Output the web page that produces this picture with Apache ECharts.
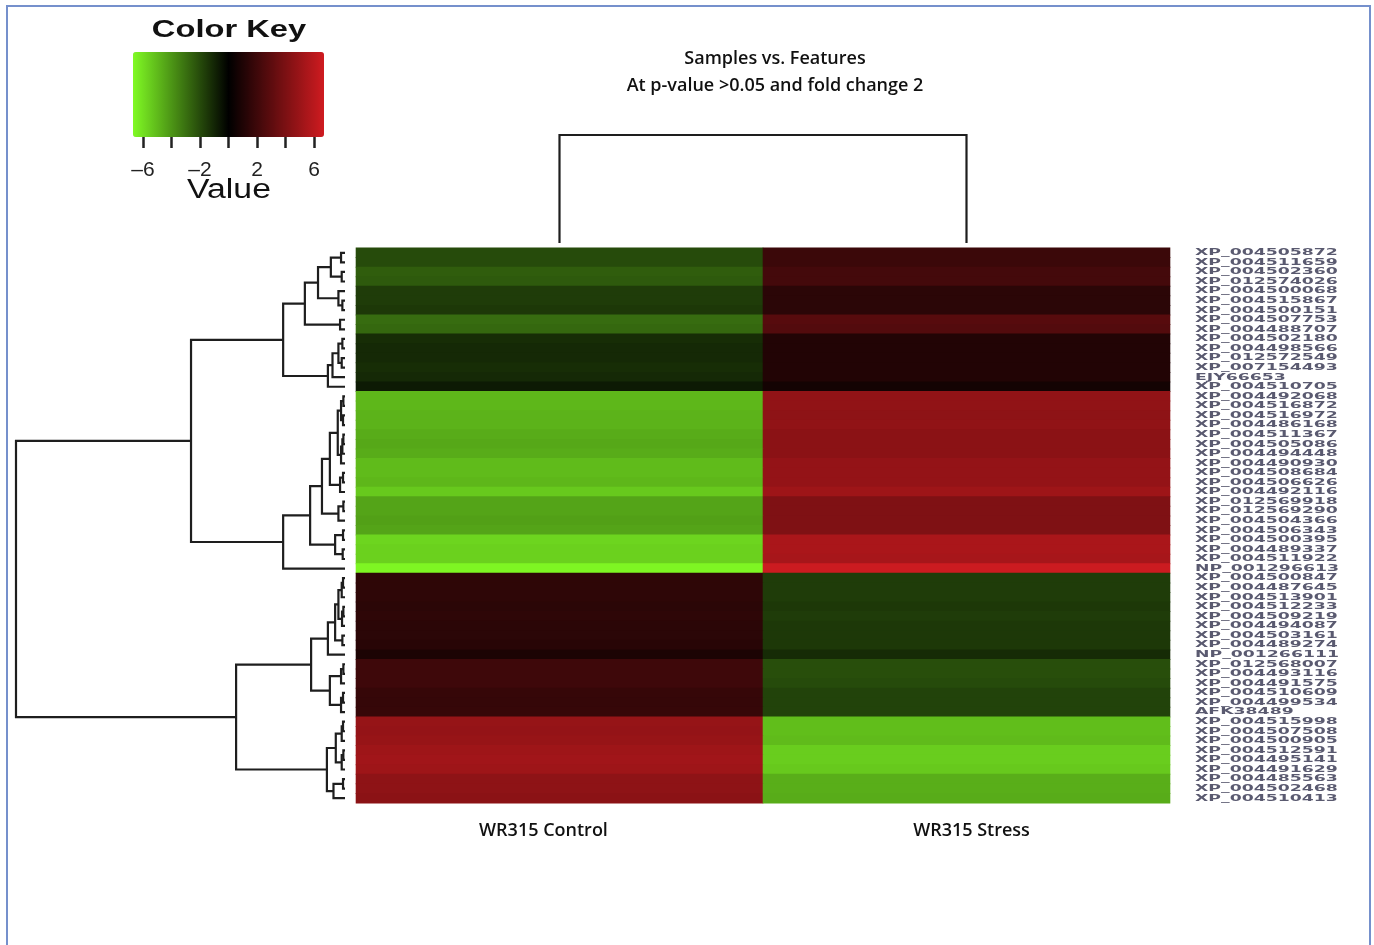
<!DOCTYPE html>
<html>
<head>
<meta charset="utf-8">
<title>Samples vs. Features</title>
<script src="https://cdn.jsdelivr.net/npm/echarts@6/dist/echarts.min.js"></script>
<style>
html, body { margin: 0; padding: 0; background: #fff; }
#main { width: 1374px; height: 945px; }
</style>
</head>
<body>
<div id="main"></div>
<script>
// samples (columns) and features (rows, in dendrogram order)
var samples = ['WR315 Control', 'WR315 Stress'];
var features = ['XP_004505872','XP_004511659','XP_004502360','XP_012574026','XP_004500068','XP_004515867',
  'XP_004500151','XP_004507753','XP_004488707','XP_004502180','XP_004498566','XP_012572549','XP_007154493',
  'EJY66653','XP_004510705','XP_004492068','XP_004516872','XP_004516972','XP_004486168','XP_004511367',
  'XP_004505086','XP_004494448','XP_004490930','XP_004508684','XP_004506626','XP_004492116','XP_012569918',
  'XP_012569290','XP_004504366','XP_004506343','XP_004500395','XP_004489337','XP_004511922','NP_001296613',
  'XP_004500847','XP_004487645','XP_004513901','XP_004512233','XP_004509219','XP_004494087','XP_004503161',
  'XP_004489274','NP_001266111','XP_012568007','XP_004493116','XP_004491575','XP_004510609','XP_004499534',
  'AFK38489','XP_004515998','XP_004507508','XP_004500905','XP_004512591','XP_004495141','XP_004491629',
  'XP_004485563','XP_004502468','XP_004510413'];

var control = [-2.0, -2.0, -2.5, -2.4, -1.6, -1.6, -1.5, -2.9, -2.8,
  -1.2, -1.1, -1.1, -1.2, -1.1, -0.7,
  -4.9, -4.9, -4.8, -4.8, -4.6, -4.5, -4.6, -5.0, -5.0, -4.9, -5.4,
  -4.4, -4.4, -4.3, -4.4, -5.7, -5.6, -5.6, -6.6,
  1.5, 1.5, 1.5, 1.4, 1.5, 1.4, 1.4, 1.3, 0.9,
  2.0, 2.0, 2.0, 1.75, 1.7, 1.75,
  4.85, 4.8, 4.9, 5.1, 5.2, 5.1, 4.6, 4.6, 4.5];
var stress = [1.9, 1.9, 2.2, 2.2, 1.4, 1.4, 1.4, 2.8, 2.7,
  1.1, 1.1, 1.1, 1.1, 1.1, 0.65,
  4.7, 4.7, 4.6, 4.7, 4.5, 4.5, 4.5, 4.8, 4.8, 4.8, 5.1,
  4.1, 4.1, 4.1, 4.1, 5.5, 5.5, 5.4, 6.6,
  -1.6, -1.6, -1.6, -1.5, -1.6, -1.5, -1.5, -1.5, -1.15,
  -2.1, -2.1, -2.0, -1.8, -1.8, -1.8,
  -5.1, -5.1, -5.0, -5.5, -5.5, -5.4, -4.65, -4.65, -4.6];

// colour key
var keyRange = [-6.7, 6.7];
var keyTicks = [-6, -4, -2, 0, 2, 4, 6];
var keyLabels = [-6, -2, 2, 6];

// row clustering, hclust style: negative = leaf (row number), positive = earlier merge
var rowMerge = [
  [-1, -2], [-3, -4], [1, 2], [-6, -7], [-5, 4], [3, 5], [-8, -9], [6, 7],
  [-10, -11], [-12, -13], [9, 10], [11, -14], [12, -15], [8, 13],
  [-16, -17], [-18, -19], [15, 16], [-20, -21], [18, -22], [19, -23], [17, 20],
  [-24, -25], [22, -26], [21, 23], [-27, -28], [25, -29], [24, 26],
  [-30, -31], [-32, -33], [28, 29], [27, 30], [31, -34], [14, 32],
  [-35, -36], [34, -37], [-38, -39], [36, -40], [35, 37], [-41, -42], [38, 39], [40, -43],
  [-44, -45], [42, -46], [-47, -48], [44, -49], [43, 45], [41, 46],
  [-50, -51], [48, -52], [-53, -54], [50, -55], [49, 51], [-56, -57], [53, -58], [52, 54],
  [47, 55], [33, 56]
];
var rowHeight = [
  0.12, 0.1, 0.43, 0.08, 0.2, 0.82, 0.15, 1.22,
  0.08, 0.1, 0.2, 0.38, 0.52, 1.88,
  0.05, 0.06, 0.12, 0.05, 0.08, 0.12, 0.22,
  0.06, 0.15, 0.46, 0.05, 0.2, 0.7,
  0.06, 0.07, 0.3, 1.06, 1.88, 4.68,
  0.06, 0.1, 0.05, 0.09, 0.2, 0.08, 0.3, 0.52,
  0.05, 0.12, 0.06, 0.12, 0.46, 1.03,
  0.06, 0.1, 0.05, 0.1, 0.28, 0.06, 0.35, 0.55,
  3.31, 10
];
var colMerge = [[-1, -2]];
var colHeight = [1];

// turn merges into elbow segments [childA height, childA pos, node height, childB pos, childB height]
function dendroSegments(merge, height) {
  var nodes = [], segs = [];
  function get(id) {
    if (id < 0) return { p: -id - 1, h: 0 };
    return nodes[id - 1];
  }
  for (var i = 0; i < merge.length; i++) {
    var a = get(merge[i][0]), b = get(merge[i][1]), h = height[i];
    segs.push([a.h, a.p, h, b.p, b.h]);
    nodes.push({ p: (a.p + b.p) / 2, h: h });
  }
  return segs;
}

function elbow(swap) {
  return function (params, api) {
    var v = [api.value(0), api.value(1), api.value(2), api.value(3), api.value(4)];
    var pts = [[v[0], v[1]], [v[2], v[1]], [v[2], v[3]], [v[4], v[3]]];
    if (swap) pts = pts.map(function (p) { return [p[1], p[0]]; });
    return {
      type: 'polyline',
      shape: { points: pts.map(function (p) { return api.coord(p); }) },
      style: { stroke: '#1e1e1e', lineWidth: 2.2, fill: null }
    };
  };
}

var heatData = [];
features.forEach(function (f, i) {
  heatData.push([0, i, control[i]]);
  heatData.push([1, i, stress[i]]);
});

var myChart = echarts.init(document.getElementById('main'));

var option = {
  animation: false,
  backgroundColor: '#fff',
  title: {
    text: 'Samples vs. Features\nAt p-value >0.05 and fold change 2',
    left: 770,
    top: 40,
    textAlign: 'center',
    textStyle: { fontFamily: 'Open Sans', fontSize: 18, fontWeight: 600, color: '#111', lineHeight: 27 }
  },
  graphic: [
    { type: 'rect', shape: { x: 7, y: 6, width: 1363, height: 1000 }, style: { fill: null, stroke: '#7590cc', lineWidth: 2 }, silent: true },
    { type: 'text', x: 229, y: 31, scaleX: 1.42, style: { text: 'Color Key', font: 'bold 23px "Liberation Sans"', fill: '#111', align: 'center', verticalAlign: 'middle' } },
    { type: 'text', x: 229, y: 191, scaleX: 1.25, style: { text: 'Value', font: '27px "Liberation Sans"', fill: '#111', align: 'center', verticalAlign: 'middle' } }
  ],
  visualMap: {
    type: 'continuous',
    seriesIndex: 0,
    dimension: 2,
    min: keyRange[0],
    max: keyRange[1],
    orient: 'horizontal',
    left: 133,
    top: 52,
    padding: 0,
    itemWidth: 85,
    itemHeight: 191,
    calculable: false,
    realtime: false,
    text: null,
    showLabel: false,
    inRange: { color: ['#80fa24', '#000000', '#cf1b20'] }
  },
  grid: [
    { left: 356, right: 204, top: 248, height: 555 },   // heatmap
    { left: 16, width: 329, top: 248, height: 555 },    // row dendrogram
    { left: 356, right: 204, top: 135, height: 108 },   // column dendrogram
    { left: 133, width: 191, top: 52, height: 85 }      // colour key axis
  ],
  xAxis: [
    {
      type: 'category', gridIndex: 0, data: samples, position: 'bottom',
      axisLine: { show: false }, axisTick: { show: false }, splitLine: { show: false },
      axisLabel: {
        margin: 19, fontFamily: 'Open Sans', fontSize: 18, fontWeight: 600, color: '#111',
        formatter: function (v, i) { return i === 0 ? '{a|' + v + '}' : '{b|' + v + '}'; },
        rich: {
          a: { fontFamily: 'Open Sans', fontSize: 18, fontWeight: 600, color: '#111', padding: [0, 32, 0, 0] },
          b: { fontFamily: 'Open Sans', fontSize: 18, fontWeight: 600, color: '#111', padding: [0, 0, 0, 10] }
        }
      }
    },
    { type: 'value', gridIndex: 1, min: 0, max: 10, inverse: true, show: false },
    { type: 'value', gridIndex: 2, min: -0.5, max: 1.5, show: false },
    {
      type: 'value', gridIndex: 3, min: keyRange[0], max: keyRange[1], position: 'bottom',
      axisLine: { show: false }, splitLine: { show: false },
      axisTick: { show: true, length: 11, customValues: keyTicks, lineStyle: { color: '#222', width: 2.5 } },
      axisLabel: {
        margin: 23, customValues: keyLabels, fontFamily: 'Liberation Sans', fontSize: 21, color: '#222',
        formatter: function (v) { return v < 0 ? '\u2013' + Math.abs(v) : String(v); }
      }
    }
  ],
  yAxis: [
    { type: 'category', gridIndex: 0, data: features, inverse: true, show: false },
    { type: 'value', gridIndex: 1, min: -0.5, max: features.length - 0.5, inverse: true, show: false },
    { type: 'value', gridIndex: 2, min: 0, max: 1, show: false },
    { type: 'value', gridIndex: 3, min: 0, max: 1, show: false }
  ],
  series: [
    {
      // heatmap cells, coloured by the visualMap, slightly overlapped so no seams show
      type: 'custom', xAxisIndex: 0, yAxisIndex: 0, silent: true, data: heatData,
      encode: { x: 0, y: 1 },
      renderItem: function (params, api) {
        var c = api.coord([api.value(0), api.value(1)]);
        var s = api.size([1, 1]);
        return {
          type: 'rect',
          shape: { x: c[0] - s[0] / 2 - 0.3, y: c[1] - s[1] / 2 - 0.5, width: s[0] + 0.6, height: s[1] + 1 },
          style: { fill: api.visual('color') }
        };
      }
    },
    {
      type: 'custom', xAxisIndex: 1, yAxisIndex: 1, silent: true,
      data: dendroSegments(rowMerge, rowHeight), renderItem: elbow(false)
    },
    {
      type: 'custom', xAxisIndex: 2, yAxisIndex: 2, silent: true,
      data: dendroSegments(colMerge, colHeight), renderItem: elbow(true)
    },
    {
      // row labels to the right of the heatmap, stretched like the original
      type: 'custom', xAxisIndex: 0, yAxisIndex: 0, silent: true,
      data: features.map(function (f, i) { return [1, i]; }),
      renderItem: function (params, api) {
        var c = api.coord([1, api.value(1)]);
        var w = api.size([1, 0])[0];
        return {
          type: 'text', x: c[0] + w / 2 + 25, y: c[1], scaleX: 1.92,
          style: {
            text: features[params.dataIndex], font: 'bold 9px "DejaVu Sans"', fill: '#5a5a70',
            align: 'left', verticalAlign: 'middle'
          }
        };
      }
    }
  ]
};
myChart.setOption(option);
window.addEventListener('resize', function () {
  myChart.resize();
});
</script>
</body>
</html>
